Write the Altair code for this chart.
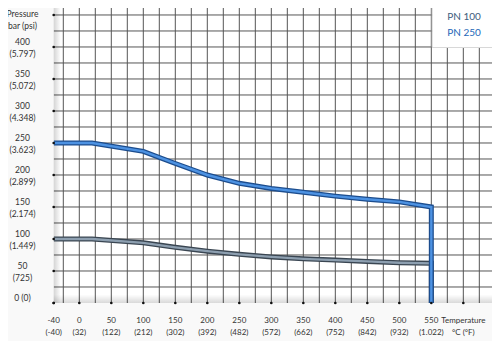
import altair as alt
import pandas as pd

# ---- data ----
temps = [-40, 0, 20, 100, 150, 200, 250, 300, 350, 400, 450, 500, 550, 550]
pn250 = [250, 250, 250, 237, 218, 200, 187, 179, 173, 167, 162, 158, 150, 0]
pn100 = [100, 100, 100, 94, 87, 81, 76, 72, 69, 67, 65, 63, 62, 0]

x_ticks = [-40, 0, 50, 100, 150, 200, 250, 300, 350, 400, 450, 500, 550, 600]
x_labels = ["-40\n(-40)", "0\n(32)", "50\n(122)", "100\n(212)", "150\n(302)",
            "200\n(392)", "250\n(482)", "300\n(572)", "350\n(662)", "400\n(752)",
            "450\n(842)", "500\n(932)", "550\n(1.022)", "Temperature\n°C (°F)"]
y_ticks = [0, 50, 100, 150, 200, 250, 300, 350, 400]
y_labels = ["0 (0)", "50\n(725)", "100\n(1.449)", "150\n(2.174)", "200\n(2.899)",
            "250\n(3.623)", "300\n(4.348)", "350\n(5.072)", "400\n(5.797)"]
y_title_tick = [450]
y_title = ["Pressure\nbar (psi)"]
grid_x = list(range(-25, 651, 25))
grid_y = list(range(25, 476, 25))

legend_names = ["PN 100", "PN 250"]
legend_colors = ["#3d5c7c", "#2467b8"]

X_DOM = [-40, 644.8]
Y_DOM = [0, 460.9]
FONT = "Lato"

xs = alt.Scale(domain=X_DOM, nice=False, zero=False)
ys = alt.Scale(domain=Y_DOM, nice=False, zero=False)
X = alt.X("T:Q", scale=xs, axis=None)
Y = alt.Y("P:Q", scale=ys, axis=None)

lines_df = pd.DataFrame({
    "T": temps * 2,
    "P": pn100 + pn250,
    "series": ["PN 100"] * len(temps) + ["PN 250"] * len(temps),
    "idx": list(range(len(temps))) * 2,
})
xt_df = pd.DataFrame({"T": x_ticks, "P": [0] * len(x_ticks), "label": x_labels})
yt_df = pd.DataFrame({"T": [-40] * len(y_ticks), "P": y_ticks, "label": y_labels})
ytt_df = pd.DataFrame({"T": [-40], "P": y_title_tick, "label": y_title})

gx = alt.Chart(pd.DataFrame({"T": grid_x})).mark_rule(color="#555555", strokeWidth=1, clip=True).encode(x=X)
gy = alt.Chart(pd.DataFrame({"P": grid_y})).mark_rule(color="#555555", strokeWidth=1, clip=True).encode(y=Y)

# shadows on left and bottom edge of the plot
shadow_left = alt.Chart(pd.DataFrame({"T": [-40], "T2": [-29], "P": [0], "P2": [Y_DOM[1]]})).mark_rect(
    fill=alt.LinearGradient(gradient="linear",
                            stops=[alt.GradientStop(color="rgba(0,0,0,0.17)", offset=0),
                                   alt.GradientStop(color="rgba(0,0,0,0)", offset=1)],
                            x1=0, x2=1, y1=0, y2=0)
).encode(x=X, x2="T2:Q", y=Y, y2="P2:Q")

shadow_bottom = alt.Chart(pd.DataFrame({"T": [-40], "T2": [X_DOM[1]], "P": [0], "P2": [13]})).mark_rect(
    fill=alt.LinearGradient(gradient="linear",
                            stops=[alt.GradientStop(color="rgba(0,0,0,0.15)", offset=0),
                                   alt.GradientStop(color="rgba(0,0,0,0)", offset=1)],
                            x1=0, x2=0, y1=1, y2=0)
).encode(x=X, x2="T2:Q", y=Y, y2="P2:Q")

def series_line(name, outer, inner):
    d = lines_df[lines_df.series == name]
    o = alt.Chart(d).mark_line(color=outer, strokeWidth=5, clip=True, strokeJoin="miter").encode(
        x=X, y=Y, order="idx:Q")
    i = alt.Chart(d).mark_line(color=inner, strokeWidth=2.4, clip=True, strokeJoin="miter").encode(
        x=X, y=Y, order="idx:Q")
    return o + i

gray = series_line("PN 100", "#3a4652", "#8d9fb0")
blue = series_line("PN 250", "#1c4d8e", "#4d92e2")

dots_x = alt.Chart(xt_df).mark_circle(color="#111", size=7, opacity=1).encode(x=X, y=Y)
dots_y = alt.Chart(pd.concat([yt_df, ytt_df])).mark_circle(color="#111", size=7, opacity=1).encode(x=X, y=Y)

xlab = alt.Chart(xt_df).mark_text(font=FONT, fontSize=8, color="#333", align="center",
                                  baseline="top", lineBreak="\n", lineHeight=11.5, dy=14).encode(
    x=X, y=Y, text="label:N")
ylab = alt.Chart(yt_df).mark_text(font=FONT, fontSize=8.5, color="#333", align="center",
                                  baseline="top", lineBreak="\n", lineHeight=12.5, dy=-9, dx=-31.2).encode(
    x=X, y=Y, text="label:N")
ytitle = alt.Chart(ytt_df).mark_text(font=FONT, fontSize=8.5, color="#333", align="center",
                                     baseline="top", lineBreak="\n", lineHeight=11.5, dy=-4.5, dx=-31.2).encode(
    x=X, y=Y, text="label:N")

dummy = pd.DataFrame({"a": [0]})
leg_box = alt.Chart(dummy).mark_rect(fill="white", stroke="#d8d8d8", strokeWidth=1).encode(
    x=alt.value(378.5), x2=alt.value(446), y=alt.value(-2), y2=alt.value(39.5))
leg1 = alt.Chart(dummy).mark_text(text=legend_names[0], font=FONT, fontSize=10, align="left",
                                  baseline="middle", color=legend_colors[0]).encode(
    x=alt.value(393.5), y=alt.value(8.5))
leg2 = alt.Chart(dummy).mark_text(text=legend_names[1], font=FONT, fontSize=10, align="left",
                                  baseline="middle", color=legend_colors[1]).encode(
    x=alt.value(393.5), y=alt.value(24.5))

chart = alt.layer(
    gx, gy, shadow_left, shadow_bottom, gray, blue, dots_x, dots_y, xlab, ylab, ytitle,
    leg_box, leg1, leg2
).properties(
    width=438.3, height=295,
    autosize=alt.AutoSizeParams(type="none"),
    padding={"left": 45.7, "top": 0, "right": 0, "bottom": 38},
    background="#f9f9f9",
).configure_view(fill="white", stroke=None)

chart.save("out.html", embed_options={"renderer": "svg", "actions": False})
